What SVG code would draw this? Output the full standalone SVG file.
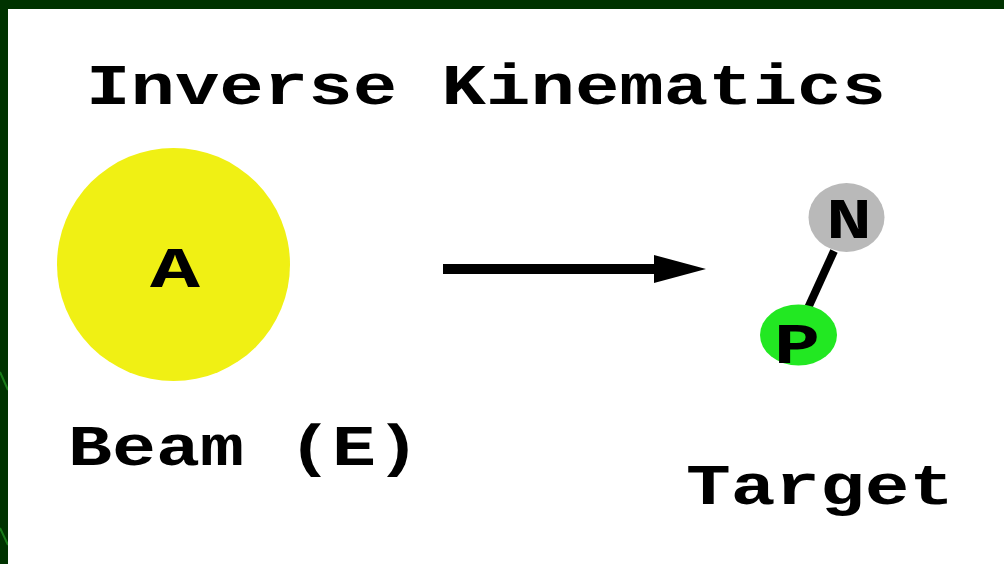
<svg xmlns="http://www.w3.org/2000/svg" width="1004" height="564" viewBox="0 0 1004 564">
  <style>
    .lbl { font-family: "Liberation Mono", "DejaVu Sans Mono", monospace; font-weight: bold; font-size: 57px; fill: #000; }
    .edge { stroke: #000; fill: none; }
  </style>
  <defs>
    <marker id="head" viewBox="0 0 52 28" refX="0" refY="14" markerWidth="52" markerHeight="28" markerUnits="userSpaceOnUse" orient="auto">
      <polygon points="0,0 52,14 0,28" fill="#000"/>
    </marker>
  </defs>

  <!-- frame -->
  <rect x="0" y="0" width="1004" height="564" fill="#003300"/>
  <line x1="0" y1="372" x2="8" y2="390" stroke="#1f8f1f" stroke-width="2" opacity="0.8"/>
  <line x1="0" y1="528" x2="8" y2="545" stroke="#1f8f1f" stroke-width="2" opacity="0.8"/>
  <rect x="8" y="9" width="996" height="555" fill="#ffffff"/>

  <!-- title -->
  <text class="lbl" x="86" y="104" textLength="800" lengthAdjust="spacingAndGlyphs">Inverse Kinematics</text>

  <!-- connectors -->
  <g id="connectors">
    <path class="edge" d="M443,269 H654" stroke-width="10" marker-end="url(#head)"/>
    <line class="edge" x1="834" y1="251" x2="808" y2="308" stroke-width="8"/>
  </g>

  <!-- beam -->
  <g id="node-A">
    <circle cx="173.5" cy="264.5" r="116.5" fill="#f0f014"/>
    <text class="lbl" x="150" y="287" textLength="50" lengthAdjust="spacingAndGlyphs">A</text>
  </g>
  <text class="lbl" x="68" y="465" textLength="352" lengthAdjust="spacingAndGlyphs">Beam (E)</text>

  <!-- target -->
  <g id="node-N">
    <ellipse cx="846.5" cy="217.5" rx="38" ry="34.5" fill="#b9b9b9"/>
    <text class="lbl" x="826" y="238" textLength="46" lengthAdjust="spacingAndGlyphs">N</text>
  </g>
  <g id="node-P">
    <ellipse cx="798.5" cy="335" rx="38.5" ry="30.5" fill="#22e822"/>
    <text class="lbl" x="774" y="363" textLength="46" lengthAdjust="spacingAndGlyphs">P</text>
  </g>
  <text class="lbl" x="686" y="504" textLength="268" lengthAdjust="spacingAndGlyphs">Target</text>
</svg>
